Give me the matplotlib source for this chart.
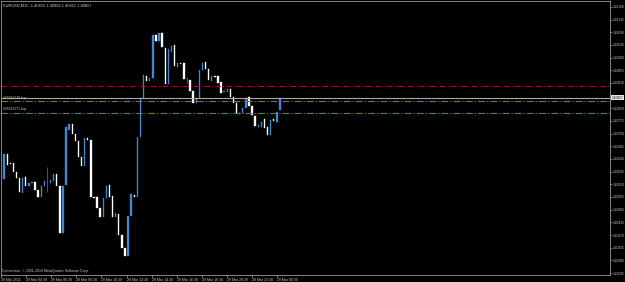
import numpy as np
import matplotlib.pyplot as plt

# EURUSD M15 candles (open / close only, bodies)
opens = [1.40569, 1.40658, 1.40626, 1.40626, 1.40594, 1.40573, 1.40520, 1.40576, 1.40544, 1.40555,
         1.40559, 1.40530, 1.40505, 1.40544, 1.40562, 1.40555, 1.40562, 1.40587, 1.40544, 1.40378,
         1.40548, 1.40743, 1.40765, 1.40729, 1.40704, 1.40647, 1.40615, 1.40715, 1.40708, 1.40505,
         1.40505, 1.40466, 1.40434, 1.40502, 1.40548, 1.40509, 1.40434, 1.40445, 1.40371, 1.40324,
         1.40296, 1.40438, 1.40512, 1.40505, 1.40718, 1.40857, 1.40935, 1.40917, 1.40928, 1.41081,
         1.41059, 1.41088, 1.41034, 1.40906, 1.41020, 1.41045, 1.40967, 1.40981, 1.40981, 1.40921,
         1.40921, 1.40882, 1.40839, 1.40857, 1.40956, 1.40985, 1.40960, 1.40917, 1.40935, 1.40935,
         1.40914, 1.40878, 1.40878, 1.40889, 1.40860, 1.40839, 1.40803, 1.40803, 1.40821, 1.40860,
         1.40828, 1.40793, 1.40754, 1.40754, 1.40782, 1.40754, 1.40725, 1.40782, 1.40772, 1.40815]
closes = [1.40658, 1.40619, 1.40623, 1.40594, 1.40573, 1.40523, 1.40573, 1.40544, 1.40555, 1.40559,
          1.40530, 1.40505, 1.40544, 1.40562, 1.40562, 1.40566, 1.40587, 1.40544, 1.40378, 1.40544,
          1.40754, 1.40765, 1.40729, 1.40704, 1.40647, 1.40615, 1.40715, 1.40708, 1.40505, 1.40502,
          1.40466, 1.40434, 1.40502, 1.40544, 1.40505, 1.40434, 1.40449, 1.40371, 1.40324, 1.40296,
          1.40438, 1.40516, 1.40505, 1.40718, 1.40857, 1.40938, 1.40917, 1.40928, 1.41081, 1.41059,
          1.41088, 1.41038, 1.40906, 1.41031, 1.41041, 1.40970, 1.40981, 1.40978, 1.40924, 1.40921,
          1.40882, 1.40839, 1.40857, 1.40956, 1.40981, 1.40960, 1.40921, 1.40935, 1.40931, 1.40910,
          1.40875, 1.40882, 1.40889, 1.40860, 1.40839, 1.40803, 1.40800, 1.40821, 1.40857, 1.40828,
          1.40796, 1.40757, 1.40761, 1.40772, 1.40750, 1.40725, 1.40779, 1.40775, 1.40807, 1.40857]
# doji bars with visible wicks
doji_idx = [14, 59]
doji_high = [1.40612, 1.40931]
doji_low = [1.40523, 1.40910]

# horizontal levels
sl_level = 1.40899
bid = 1.40857
orders = [1.40846, 1.40805]
order_names = ['#55962120 buy', '#55962171 buy']

price_ticks = np.round(np.arange(1.40235, 1.41181, 0.00045), 5)
time_labels = ['28 Mar 2011', '28 Mar 04:30', '28 Mar 06:30', '28 Mar 08:30', '28 Mar 10:30',
               '28 Mar 12:30', '28 Mar 14:30', '28 Mar 16:30', '28 Mar 18:30', '28 Mar 20:30',
               '28 Mar 22:30', '29 Mar 00:30']

BULL = '#4585d2'
BEAR = '#ffffff'
DOJI = '#8e2f8e'
GRID = '#9a9a9a'
TXT = '#c8c8c8'
FONT = 'Liberation Sans'

fig = plt.figure(figsize=(6.25, 2.82), dpi=100, facecolor='black')
ax = fig.add_axes([1 / 625, 7 / 282, 609 / 625, 274 / 282], facecolor='black')

o = np.array(opens)
c = np.array(closes)
x = np.arange(len(o))
cols = [BULL if cc > oo else BEAR for oo, cc in zip(o, c)]
for i in doji_idx:
  cols[i] = DOJI
ax.bar(x, c - o, bottom=o, width=0.45, color=cols, edgecolor=cols, linewidth=0.25)
ax.vlines(np.array(doji_idx), doji_low, doji_high, color=DOJI, linewidth=0.7)

ax.axhline(sl_level, color='#8c2323', linewidth=0.7, linestyle=(0, (6, 2, 1, 2)))
ax.axhline(bid, color='#a8a8a8', linewidth=0.8)
for lv, name in zip(orders, order_names):
  ax.axhline(lv, color='#2e9e2e', linewidth=0.8, linestyle=(0, (6, 2, 1, 2)))
  ax.text(0.004, lv + 0.00004, name, transform=ax.get_yaxis_transform(), fontsize=2.4,
          color=TXT, va='bottom', ha='left', family=FONT)

ax.set_xlim(-0.97, 195.5)
ax.set_ylim(1.40228, 1.41201)

# price axis on the right
ax.yaxis.tick_right()
ax.set_yticks(price_ticks)
ax.set_yticklabels(['' if abs(p - 1.40865) < 1e-6 else '%.5f' % p for p in price_ticks])
ax.tick_params(axis='y', colors=GRID, labelcolor=TXT, labelsize=2.3, length=1.6, width=0.5, pad=0.6)
ax.text(1.003, bid, '%.5f' % bid, transform=ax.get_yaxis_transform(), fontsize=2.3, color='black',
        va='center', ha='left', family=FONT,
        bbox=dict(boxstyle='square,pad=0.15', fc='#e8e8e8', ec='none'))

# time axis
tpos = np.arange(len(time_labels)) * 8.1 - 1
ax.set_xticks(tpos)
ax.set_xticklabels(time_labels)
for lab in ax.get_xticklabels():
  lab.set_horizontalalignment('left')
ax.tick_params(axis='x', colors=GRID, labelcolor=TXT, labelsize=2.5, length=1.8, width=0.5, pad=0.4)
for lab in ax.get_xticklabels() + ax.get_yticklabels():
  lab.set_family(FONT)

for s in ax.spines.values():
  s.set_color(GRID)
  s.set_linewidth(0.6)

ax.text(0.003, 0.992, 'EURUSD,M15  1.40815 1.40904 1.40811 1.40857', transform=ax.transAxes,
        fontsize=2.9, color=TXT, va='top', ha='left', family=FONT)
ax.text(0.002, 0.006, 'Connection, \u00a9 2001-2010 MetaQuotes Software Corp.', transform=ax.transAxes,
        fontsize=2.6, color=TXT, va='bottom', ha='left', family=FONT)

fig.savefig('out.png', dpi=100, facecolor='black')
